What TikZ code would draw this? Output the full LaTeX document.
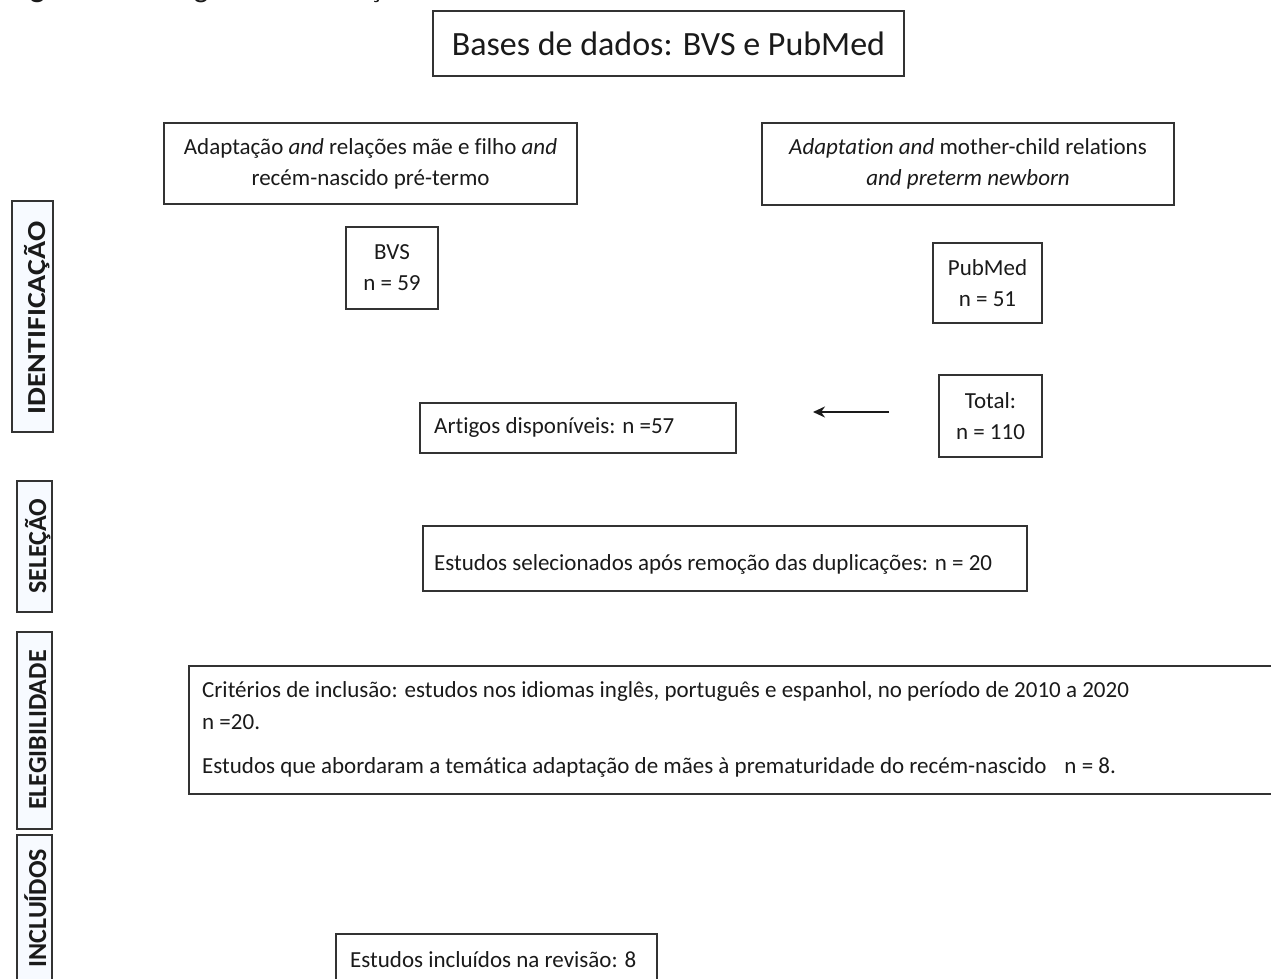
\documentclass[tikz,border=0pt]{standalone}
\usepackage{fontspec}
\setmainfont{Carlito}[Ligatures=NoCommon]
\usetikzlibrary{arrows.meta}
\definecolor{linec}{HTML}{333333}
\definecolor{textc}{HTML}{1A1A1A}
\definecolor{sidefill}{HTML}{F7FAFF}
\begin{document}
\begin{tikzpicture}[x=1pt,y=-1pt,
  box/.style={draw=linec, line width=2pt, inner sep=0pt, text=textc, align=center,
    font=\fontsize{23}{31}\selectfont},
  frame/.style={draw=linec, line width=2pt, inner sep=0pt, anchor=north west},
  side/.style={draw=linec, line width=2pt, fill=sidefill, inner sep=0pt},
  sidetext/.style={rotate=90, anchor=base, text=textc, inner sep=0pt,
    font=\bfseries\fontsize{26}{30}\selectfont},
  txt/.style={anchor=base west, text=textc, inner sep=0pt,
    font=\fontsize{23}{31}\selectfont},
  arr/.style={-{Stealth[length=12pt,width=11pt]}, line width=2.5pt, draw=textc}]
\useasboundingbox (0,0) rectangle (1271,979);
\clip (0,0) rectangle (1271,979);

% caption (cut off at the top edge, as in the source)
\node[anchor=base west, inner sep=0pt, text=textc, font=\fontsize{31}{31}\selectfont]
  (cap) at (8,-2) {\textbf{Figura 1.} Fluxograma de seleção dos estudos};

% side labels
\node[side, minimum width=41, minimum height=231] (sid) at (32.5,316.5) {};
\node[sidetext] (sidt) at (45,318) {\scalebox{1.15}[1]{IDENTIFICAÇÃO}};
\node[side, minimum width=35, minimum height=131] (ssel) at (34.5,546.5) {};
\node[sidetext] (sselt) at (46,546) {SELEÇÃO};
\node[side, minimum width=35, minimum height=197] (seleg) at (34.5,730.5) {};
\node[sidetext] (selegt) at (46,730) {ELEGIBILIDADE};
\node[side, minimum width=35, minimum height=150] (sinc) at (34.5,910) {};
\node[sidetext] (sinct) at (46,908) {INCLUÍDOS};

% title
\node[box, minimum width=471, minimum height=65, font=\fontsize{34}{40}\selectfont]
  (title) at (668.5,43.5) {Bases de dados: BVS e PubMed};

% search strings
\node[box, minimum width=413, minimum height=81] (qpt) at (370.5,163.5)
  {Adaptação \textit{and} relações mãe e filho \textit{and}\\recém-nascido pré-termo};
\node[box, minimum width=412, minimum height=82] (qen) at (968,164)
  {\textit{Adaptation and} mother-child relations\\\textit{and preterm newborn}};

% databases
\node[box, minimum width=92, minimum height=82] (bvs) at (392,268) {BVS\\n = 59};
\node[box, minimum width=109, minimum height=80] (pub) at (987.5,283) {PubMed\\n = 51};
\node[box, minimum width=103, minimum height=82] (tot) at (990.5,416) {Total:\\n = 110};

% available
\node[frame, minimum width=316, minimum height=50] (art) at (419,402) {};
\node[txt] (artt) at (434,433) {Artigos disponíveis: n =57};
\coordinate (a1) at (889,412);
\coordinate (a2) at (813,412);
\draw[arr] (a1) -- (a2);

% selection
\node[frame, minimum width=604, minimum height=65] (sel) at (422,525) {};
\node[txt] (selt) at (434,570) {Estudos selecionados após remoção das duplicações: n = 20};

% eligibility
\node[frame, minimum width=1120, minimum height=128] (crit) at (188,665) {};
\node[txt] (crit1) at (202,697) {Critérios de inclusão: estudos nos idiomas inglês, português e espanhol, no período de 2010 a 2020};
\node[txt] (crit2) at (202,729) {n =20.};
\node[txt] (crit3) at (202,773) {Estudos que abordaram a temática adaptação de mães à prematuridade do recém-nascido\hspace{18pt}n = 8.};

% included
\node[frame, minimum width=321, minimum height=70] (inc) at (335,933) {};
\node[txt] (inct) at (350,967) {Estudos incluídos na revisão: 8};
\end{tikzpicture}
\end{document}
